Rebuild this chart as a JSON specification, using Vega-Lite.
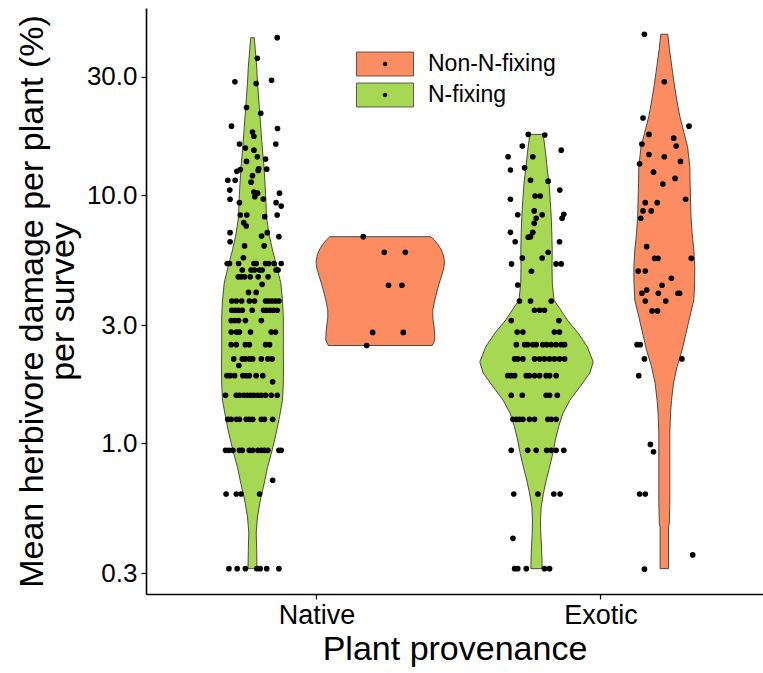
{
"$schema":"https://vega.github.io/schema/vega-lite/v6.json",
"width":617,"height":586,
"autosize":{"type":"none"},
"padding":{"left":146,"top":8,"right":0,"bottom":79},
"background":"white",
"config":{"view":{"stroke":null},"font":"Liberation Sans",
 "axis":{"grid":false,"domainColor":"black","domainWidth":1.6,"tickColor":"black","tickWidth":1.2,"tickSize":5,"labelColor":"black","titleColor":"black","labelFont":"Liberation Sans","titleFont":"Liberation Sans","titleFontWeight":"normal"},
 "legend":{"labelFont":"Liberation Sans","labelFontSize":23,"labelColor":"black","padding":0,"rowPadding":2,"labelOffset":30.5,"orient":"none","legendX":226.5,"legendY":43.5,"symbolSize":576,"symbolStrokeWidth":0.8}
},
"datasets":{
"violin":[
{"prov":"Native","type":"N-fixing","damage":43.2,"half":0.0063},{"prov":"Native","type":"N-fixing","damage":38.6,"half":0.0099},{"prov":"Native","type":"N-fixing","damage":32.9,"half":0.0148},{"prov":"Native","type":"N-fixing","damage":28.4,"half":0.0176},{"prov":"Native","type":"N-fixing","damage":24.2,"half":0.0222},{"prov":"Native","type":"N-fixing","damage":20.7,"half":0.0264},{"prov":"Native","type":"N-fixing","damage":17.8,"half":0.0306},{"prov":"Native","type":"N-fixing","damage":15.2,"half":0.0352},{"prov":"Native","type":"N-fixing","damage":13.0,"half":0.0405},{"prov":"Native","type":"N-fixing","damage":11.2,"half":0.044},{"prov":"Native","type":"N-fixing","damage":9.75,"half":0.0468},{"prov":"Native","type":"N-fixing","damage":8.18,"half":0.0493},{"prov":"Native","type":"N-fixing","damage":7.05,"half":0.0574},{"prov":"Native","type":"N-fixing","damage":6.02,"half":0.0704},{"prov":"Native","type":"N-fixing","damage":5.14,"half":0.0863},{"prov":"Native","type":"N-fixing","damage":4.43,"half":0.0996},{"prov":"Native","type":"N-fixing","damage":3.78,"half":0.1056},{"prov":"Native","type":"N-fixing","damage":3.23,"half":0.1085},{"prov":"Native","type":"N-fixing","damage":2.38,"half":0.1085},{"prov":"Native","type":"N-fixing","damage":2.03,"half":0.1092},{"prov":"Native","type":"N-fixing","damage":1.75,"half":0.1085},{"prov":"Native","type":"N-fixing","damage":1.49,"half":0.1056},{"prov":"Native","type":"N-fixing","damage":1.28,"half":0.0951},{"prov":"Native","type":"N-fixing","damage":1.10,"half":0.0835},{"prov":"Native","type":"N-fixing","damage":0.94,"half":0.0694},{"prov":"Native","type":"N-fixing","damage":0.80,"half":0.0528},{"prov":"Native","type":"N-fixing","damage":0.69,"half":0.0412},{"prov":"Native","type":"N-fixing","damage":0.59,"half":0.0275},{"prov":"Native","type":"N-fixing","damage":0.505,"half":0.0176},{"prov":"Native","type":"N-fixing","damage":0.435,"half":0.013},{"prov":"Native","type":"N-fixing","damage":0.371,"half":0.0148},{"prov":"Native","type":"N-fixing","damage":0.3125,"half":0.0158},
{"prov":"Native","type":"Non-N-fixing","damage":6.81,"half":0.1778},{"prov":"Native","type":"Non-N-fixing","damage":6.60,"half":0.1901},{"prov":"Native","type":"Non-N-fixing","damage":6.31,"half":0.2042},{"prov":"Native","type":"Non-N-fixing","damage":6.02,"half":0.2148},{"prov":"Native","type":"Non-N-fixing","damage":5.75,"half":0.2218},{"prov":"Native","type":"Non-N-fixing","damage":5.39,"half":0.2261},{"prov":"Native","type":"Non-N-fixing","damage":5.09,"half":0.2236},{"prov":"Native","type":"Non-N-fixing","damage":4.77,"half":0.2165},{"prov":"Native","type":"Non-N-fixing","damage":4.43,"half":0.2077},{"prov":"Native","type":"Non-N-fixing","damage":4.15,"half":0.2007},{"prov":"Native","type":"Non-N-fixing","damage":3.78,"half":0.1919},{"prov":"Native","type":"Non-N-fixing","damage":3.45,"half":0.1849},{"prov":"Native","type":"Non-N-fixing","damage":3.20,"half":0.1849},{"prov":"Native","type":"Non-N-fixing","damage":3.0,"half":0.1884},{"prov":"Native","type":"Non-N-fixing","damage":2.79,"half":0.1912},{"prov":"Native","type":"Non-N-fixing","damage":2.61,"half":0.1919},{"prov":"Native","type":"Non-N-fixing","damage":2.48,"half":0.1831},
{"prov":"Exotic","type":"N-fixing","damage":17.6,"half":0.0236},{"prov":"Exotic","type":"N-fixing","damage":15.2,"half":0.031},{"prov":"Exotic","type":"N-fixing","damage":13.05,"half":0.037},{"prov":"Exotic","type":"N-fixing","damage":11.18,"half":0.044},{"prov":"Exotic","type":"N-fixing","damage":9.58,"half":0.0482},{"prov":"Exotic","type":"N-fixing","damage":8.20,"half":0.0518},{"prov":"Exotic","type":"N-fixing","damage":7.03,"half":0.0539},{"prov":"Exotic","type":"N-fixing","damage":6.02,"half":0.0553},{"prov":"Exotic","type":"N-fixing","damage":5.15,"half":0.0546},{"prov":"Exotic","type":"N-fixing","damage":4.42,"half":0.0556},{"prov":"Exotic","type":"N-fixing","damage":3.78,"half":0.0616},{"prov":"Exotic","type":"N-fixing","damage":3.45,"half":0.0852},{"prov":"Exotic","type":"N-fixing","damage":3.14,"half":0.1085},{"prov":"Exotic","type":"N-fixing","damage":2.78,"half":0.1468},{"prov":"Exotic","type":"N-fixing","damage":2.45,"half":0.1789},{"prov":"Exotic","type":"N-fixing","damage":2.13,"half":0.1996},{"prov":"Exotic","type":"N-fixing","damage":1.92,"half":0.1877},{"prov":"Exotic","type":"N-fixing","damage":1.69,"half":0.1525},{"prov":"Exotic","type":"N-fixing","damage":1.49,"half":0.1173},{"prov":"Exotic","type":"N-fixing","damage":1.32,"half":0.0926},{"prov":"Exotic","type":"N-fixing","damage":1.17,"half":0.0782},{"prov":"Exotic","type":"N-fixing","damage":1.03,"half":0.0662},{"prov":"Exotic","type":"N-fixing","damage":0.91,"half":0.0574},{"prov":"Exotic","type":"N-fixing","damage":0.80,"half":0.0458},{"prov":"Exotic","type":"N-fixing","damage":0.71,"half":0.0342},{"prov":"Exotic","type":"N-fixing","damage":0.63,"half":0.0246},{"prov":"Exotic","type":"N-fixing","damage":0.555,"half":0.0165},{"prov":"Exotic","type":"N-fixing","damage":0.49,"half":0.0141},{"prov":"Exotic","type":"N-fixing","damage":0.434,"half":0.0151},{"prov":"Exotic","type":"N-fixing","damage":0.383,"half":0.0176},{"prov":"Exotic","type":"N-fixing","damage":0.338,"half":0.0194},{"prov":"Exotic","type":"N-fixing","damage":0.3125,"half":0.0194},
{"prov":"Exotic","type":"Non-N-fixing","damage":44.6,"half":0.0123},{"prov":"Exotic","type":"Non-N-fixing","damage":38.6,"half":0.0183},{"prov":"Exotic","type":"Non-N-fixing","damage":33.0,"half":0.0264},{"prov":"Exotic","type":"Non-N-fixing","damage":28.3,"half":0.0345},{"prov":"Exotic","type":"Non-N-fixing","damage":24.2,"half":0.044},{"prov":"Exotic","type":"Non-N-fixing","damage":20.8,"half":0.0546},{"prov":"Exotic","type":"Non-N-fixing","damage":17.8,"half":0.0697},{"prov":"Exotic","type":"Non-N-fixing","damage":15.7,"half":0.082},{"prov":"Exotic","type":"Non-N-fixing","damage":13.05,"half":0.0898},{"prov":"Exotic","type":"Non-N-fixing","damage":11.18,"half":0.0908},{"prov":"Exotic","type":"Non-N-fixing","damage":9.58,"half":0.0923},{"prov":"Exotic","type":"Non-N-fixing","damage":8.20,"half":0.094},{"prov":"Exotic","type":"Non-N-fixing","damage":7.03,"half":0.0979},{"prov":"Exotic","type":"Non-N-fixing","damage":6.02,"half":0.1039},{"prov":"Exotic","type":"Non-N-fixing","damage":5.15,"half":0.1074},{"prov":"Exotic","type":"Non-N-fixing","damage":4.42,"half":0.1067},{"prov":"Exotic","type":"Non-N-fixing","damage":3.78,"half":0.1039},{"prov":"Exotic","type":"Non-N-fixing","damage":3.24,"half":0.0898},{"prov":"Exotic","type":"Non-N-fixing","damage":2.78,"half":0.0764},{"prov":"Exotic","type":"Non-N-fixing","damage":2.38,"half":0.0627},{"prov":"Exotic","type":"Non-N-fixing","damage":2.04,"half":0.0451},{"prov":"Exotic","type":"Non-N-fixing","damage":1.75,"half":0.0324},{"prov":"Exotic","type":"Non-N-fixing","damage":1.49,"half":0.0254},{"prov":"Exotic","type":"Non-N-fixing","damage":1.32,"half":0.0218},{"prov":"Exotic","type":"Non-N-fixing","damage":1.10,"half":0.0194},{"prov":"Exotic","type":"Non-N-fixing","damage":0.59,"half":0.0194},{"prov":"Exotic","type":"Non-N-fixing","damage":0.476,"half":0.0176},{"prov":"Exotic","type":"Non-N-fixing","damage":0.461,"half":0.0148},{"prov":"Exotic","type":"Non-N-fixing","damage":0.3125,"half":0.0148}
],
"pts":[
{"prov":"Native","type":"N-fixing","damage":43.2,"jitter":0.087},{"prov":"Native","type":"N-fixing","damage":35.7,"jitter":0.017},{"prov":"Native","type":"N-fixing","damage":28.7,"jitter":-0.062},{"prov":"Native","type":"N-fixing","damage":28.2,"jitter":0.013},{"prov":"Native","type":"N-fixing","damage":29.1,"jitter":0.067},{"prov":"Native","type":"N-fixing","damage":22.6,"jitter":-0.021},{"prov":"Native","type":"N-fixing","damage":21.4,"jitter":0.029},{"prov":"Native","type":"N-fixing","damage":19.0,"jitter":-0.074},{"prov":"Native","type":"N-fixing","damage":18.6,"jitter":0.088},{"prov":"Native","type":"N-fixing","damage":18.0,"jitter":0},{"prov":"Native","type":"N-fixing","damage":17.3,"jitter":0.005},{"prov":"Native","type":"N-fixing","damage":16.1,"jitter":-0.046},{"prov":"Native","type":"N-fixing","damage":16.1,"jitter":0.082},{"prov":"Native","type":"N-fixing","damage":15.5,"jitter":-0.025},{"prov":"Native","type":"N-fixing","damage":15.2,"jitter":0.005},{"prov":"Native","type":"N-fixing","damage":14.3,"jitter":0.017},{"prov":"Native","type":"N-fixing","damage":14.0,"jitter":0.046},{"prov":"Native","type":"N-fixing","damage":13.7,"jitter":-0.021},{"prov":"Native","type":"N-fixing","damage":12.5,"jitter":-0.055},{"prov":"Native","type":"N-fixing","damage":12.7,"jitter":-0.043},{"prov":"Native","type":"N-fixing","damage":12.8,"jitter":0.022},{"prov":"Native","type":"N-fixing","damage":12.75,"jitter":0.05},{"prov":"Native","type":"N-fixing","damage":12.6,"jitter":0.02},{"prov":"Native","type":"N-fixing","damage":12.0,"jitter":0},{"prov":"Native","type":"N-fixing","damage":11.5,"jitter":-0.087},{"prov":"Native","type":"N-fixing","damage":11.5,"jitter":-0.061},{"prov":"Native","type":"N-fixing","damage":11.3,"jitter":-0.005},{"prov":"Native","type":"N-fixing","damage":10.5,"jitter":-0.08},{"prov":"Native","type":"N-fixing","damage":10.3,"jitter":0.005},{"prov":"Native","type":"N-fixing","damage":10.2,"jitter":0.018},{"prov":"Native","type":"N-fixing","damage":10.2,"jitter":0.095},{"prov":"Native","type":"N-fixing","damage":9.64,"jitter":-0.079},{"prov":"Native","type":"N-fixing","damage":9.87,"jitter":0.008},{"prov":"Native","type":"N-fixing","damage":9.66,"jitter":0.038},{"prov":"Native","type":"N-fixing","damage":9.34,"jitter":-0.046},{"prov":"Native","type":"N-fixing","damage":9.34,"jitter":0.083},{"prov":"Native","type":"N-fixing","damage":9.05,"jitter":0.101},{"prov":"Native","type":"N-fixing","damage":8.33,"jitter":-0.043},{"prov":"Native","type":"N-fixing","damage":8.33,"jitter":-0.02},{"prov":"Native","type":"N-fixing","damage":8.2,"jitter":0.043},{"prov":"Native","type":"N-fixing","damage":8.33,"jitter":0.087},{"prov":"Native","type":"N-fixing","damage":7.76,"jitter":-0.031},{"prov":"Native","type":"N-fixing","damage":7.52,"jitter":-0.022},{"prov":"Native","type":"N-fixing","damage":7.07,"jitter":-0.079},{"prov":"Native","type":"N-fixing","damage":7.07,"jitter":0.052},{"prov":"Native","type":"N-fixing","damage":6.5,"jitter":-0.079},{"prov":"Native","type":"N-fixing","damage":6.85,"jitter":0.032},{"prov":"Native","type":"N-fixing","damage":6.81,"jitter":0.093},{"prov":"Native","type":"N-fixing","damage":6.25,"jitter":-0.028},{"prov":"Native","type":"N-fixing","damage":6.25,"jitter":0.041},{"prov":"Native","type":"N-fixing","damage":5.6,"jitter":-0.032},
{"prov":"Native","type":"N-fixing","damage":5.31,"jitter":-0.089},{"prov":"Native","type":"N-fixing","damage":5.31,"jitter":-0.081},{"prov":"Native","type":"N-fixing","damage":5.31,"jitter":-0.049},{"prov":"Native","type":"N-fixing","damage":5.31,"jitter":0.005},{"prov":"Native","type":"N-fixing","damage":5.31,"jitter":0.013},{"prov":"Native","type":"N-fixing","damage":5.31,"jitter":0.046},{"prov":"Native","type":"N-fixing","damage":5.31,"jitter":0.057},{"prov":"Native","type":"N-fixing","damage":5.31,"jitter":0.076},{"prov":"Native","type":"N-fixing","damage":5.31,"jitter":0.101},
{"prov":"Native","type":"N-fixing","damage":5.0,"jitter":-0.036},{"prov":"Native","type":"N-fixing","damage":5.0,"jitter":-0.005},{"prov":"Native","type":"N-fixing","damage":5.0,"jitter":0.007},{"prov":"Native","type":"N-fixing","damage":5.0,"jitter":0.025},{"prov":"Native","type":"N-fixing","damage":5.0,"jitter":0.034},{"prov":"Native","type":"N-fixing","damage":5.0,"jitter":0.083},{"prov":"Native","type":"N-fixing","damage":5.0,"jitter":0.09},
{"prov":"Native","type":"N-fixing","damage":4.69,"jitter":-0.05},{"prov":"Native","type":"N-fixing","damage":4.69,"jitter":-0.04},{"prov":"Native","type":"N-fixing","damage":4.69,"jitter":-0.028},{"prov":"Native","type":"N-fixing","damage":4.69,"jitter":-0.008},{"prov":"Native","type":"N-fixing","damage":4.69,"jitter":0.02},{"prov":"Native","type":"N-fixing","damage":4.69,"jitter":0.055},
{"prov":"Native","type":"N-fixing","damage":4.375,"jitter":0.034},{"prov":"Native","type":"N-fixing","damage":4.06,"jitter":-0.014},{"prov":"Native","type":"N-fixing","damage":4.06,"jitter":0.013},
{"prov":"Native","type":"N-fixing","damage":3.75,"jitter":-0.073},{"prov":"Native","type":"N-fixing","damage":3.75,"jitter":-0.057},{"prov":"Native","type":"N-fixing","damage":3.75,"jitter":-0.038},{"prov":"Native","type":"N-fixing","damage":3.75,"jitter":-0.011},{"prov":"Native","type":"N-fixing","damage":3.75,"jitter":0.007},{"prov":"Native","type":"N-fixing","damage":3.75,"jitter":0.046},{"prov":"Native","type":"N-fixing","damage":3.75,"jitter":0.057},{"prov":"Native","type":"N-fixing","damage":3.75,"jitter":0.069},{"prov":"Native","type":"N-fixing","damage":3.75,"jitter":0.081},{"prov":"Native","type":"N-fixing","damage":3.75,"jitter":0.093},
{"prov":"Native","type":"N-fixing","damage":3.44,"jitter":-0.073},{"prov":"Native","type":"N-fixing","damage":3.44,"jitter":-0.061},{"prov":"Native","type":"N-fixing","damage":3.44,"jitter":-0.049},{"prov":"Native","type":"N-fixing","damage":3.44,"jitter":-0.036},{"prov":"Native","type":"N-fixing","damage":3.44,"jitter":-0.001},{"prov":"Native","type":"N-fixing","damage":3.44,"jitter":0.039},{"prov":"Native","type":"N-fixing","damage":3.44,"jitter":0.05},{"prov":"Native","type":"N-fixing","damage":3.44,"jitter":0.062},{"prov":"Native","type":"N-fixing","damage":3.44,"jitter":0.074},{"prov":"Native","type":"N-fixing","damage":3.44,"jitter":0.087},
{"prov":"Native","type":"N-fixing","damage":3.125,"jitter":-0.075},{"prov":"Native","type":"N-fixing","damage":3.125,"jitter":-0.063},{"prov":"Native","type":"N-fixing","damage":3.125,"jitter":-0.049},{"prov":"Native","type":"N-fixing","damage":3.125,"jitter":-0.025},{"prov":"Native","type":"N-fixing","damage":3.125,"jitter":0.031},
{"prov":"Native","type":"N-fixing","damage":2.81,"jitter":-0.075},{"prov":"Native","type":"N-fixing","damage":2.81,"jitter":-0.057},{"prov":"Native","type":"N-fixing","damage":2.81,"jitter":-0.046},{"prov":"Native","type":"N-fixing","damage":2.81,"jitter":-0.007},{"prov":"Native","type":"N-fixing","damage":2.81,"jitter":0.066},{"prov":"Native","type":"N-fixing","damage":2.81,"jitter":0.081},
{"prov":"Native","type":"N-fixing","damage":2.5,"jitter":-0.075},{"prov":"Native","type":"N-fixing","damage":2.5,"jitter":-0.057},{"prov":"Native","type":"N-fixing","damage":2.5,"jitter":-0.025},{"prov":"Native","type":"N-fixing","damage":2.5,"jitter":-0.011},{"prov":"Native","type":"N-fixing","damage":2.5,"jitter":0.046},{"prov":"Native","type":"N-fixing","damage":2.5,"jitter":0.06},
{"prov":"Native","type":"N-fixing","damage":2.19,"jitter":-0.066},{"prov":"Native","type":"N-fixing","damage":2.19,"jitter":-0.036},{"prov":"Native","type":"N-fixing","damage":2.19,"jitter":-0.025},{"prov":"Native","type":"N-fixing","damage":2.19,"jitter":-0.011},{"prov":"Native","type":"N-fixing","damage":2.19,"jitter":0.001},{"prov":"Native","type":"N-fixing","damage":2.19,"jitter":0.031},{"prov":"Native","type":"N-fixing","damage":2.19,"jitter":0.054},{"prov":"Native","type":"N-fixing","damage":2.19,"jitter":0.069},
{"prov":"Native","type":"N-fixing","damage":2.06,"jitter":-0.048},
{"prov":"Native","type":"N-fixing","damage":1.875,"jitter":-0.09},{"prov":"Native","type":"N-fixing","damage":1.875,"jitter":-0.079},{"prov":"Native","type":"N-fixing","damage":1.875,"jitter":-0.063},{"prov":"Native","type":"N-fixing","damage":1.875,"jitter":-0.034},{"prov":"Native","type":"N-fixing","damage":1.875,"jitter":-0.022},{"prov":"Native","type":"N-fixing","damage":1.875,"jitter":-0.011},{"prov":"Native","type":"N-fixing","damage":1.875,"jitter":0.013},{"prov":"Native","type":"N-fixing","damage":1.875,"jitter":0.036},
{"prov":"Native","type":"N-fixing","damage":1.77,"jitter":0.071},
{"prov":"Native","type":"N-fixing","damage":1.5625,"jitter":-0.095},{"prov":"Native","type":"N-fixing","damage":1.5625,"jitter":-0.057},{"prov":"Native","type":"N-fixing","damage":1.5625,"jitter":-0.046},{"prov":"Native","type":"N-fixing","damage":1.5625,"jitter":-0.031},{"prov":"Native","type":"N-fixing","damage":1.5625,"jitter":-0.019},{"prov":"Native","type":"N-fixing","damage":1.5625,"jitter":-0.007},{"prov":"Native","type":"N-fixing","damage":1.5625,"jitter":0.005},{"prov":"Native","type":"N-fixing","damage":1.5625,"jitter":0.019},{"prov":"Native","type":"N-fixing","damage":1.5625,"jitter":0.031},{"prov":"Native","type":"N-fixing","damage":1.5625,"jitter":0.046},{"prov":"Native","type":"N-fixing","damage":1.5625,"jitter":0.066},{"prov":"Native","type":"N-fixing","damage":1.5625,"jitter":0.087},
{"prov":"Native","type":"N-fixing","damage":1.25,"jitter":-0.087},{"prov":"Native","type":"N-fixing","damage":1.25,"jitter":-0.075},{"prov":"Native","type":"N-fixing","damage":1.25,"jitter":-0.057},{"prov":"Native","type":"N-fixing","damage":1.25,"jitter":-0.046},{"prov":"Native","type":"N-fixing","damage":1.25,"jitter":-0.022},{"prov":"Native","type":"N-fixing","damage":1.25,"jitter":-0.011},{"prov":"Native","type":"N-fixing","damage":1.25,"jitter":0.001},{"prov":"Native","type":"N-fixing","damage":1.25,"jitter":0.031},{"prov":"Native","type":"N-fixing","damage":1.25,"jitter":0.042},{"prov":"Native","type":"N-fixing","damage":1.25,"jitter":0.071},
{"prov":"Native","type":"N-fixing","damage":0.9375,"jitter":-0.095},{"prov":"Native","type":"N-fixing","damage":0.9375,"jitter":-0.083},{"prov":"Native","type":"N-fixing","damage":0.9375,"jitter":-0.069},{"prov":"Native","type":"N-fixing","damage":0.9375,"jitter":-0.046},{"prov":"Native","type":"N-fixing","damage":0.9375,"jitter":-0.036},{"prov":"Native","type":"N-fixing","damage":0.9375,"jitter":-0.011},{"prov":"Native","type":"N-fixing","damage":0.9375,"jitter":0.001},{"prov":"Native","type":"N-fixing","damage":0.9375,"jitter":0.019},{"prov":"Native","type":"N-fixing","damage":0.9375,"jitter":0.031},{"prov":"Native","type":"N-fixing","damage":0.9375,"jitter":0.042},{"prov":"Native","type":"N-fixing","damage":0.9375,"jitter":0.054},{"prov":"Native","type":"N-fixing","damage":0.9375,"jitter":0.093},{"prov":"Native","type":"N-fixing","damage":0.9375,"jitter":0.101},
{"prov":"Native","type":"N-fixing","damage":0.71,"jitter":0.071},
{"prov":"Native","type":"N-fixing","damage":0.625,"jitter":-0.093},{"prov":"Native","type":"N-fixing","damage":0.625,"jitter":-0.057},{"prov":"Native","type":"N-fixing","damage":0.625,"jitter":-0.04},{"prov":"Native","type":"N-fixing","damage":0.625,"jitter":0.025},
{"prov":"Native","type":"N-fixing","damage":0.3125,"jitter":-0.083},{"prov":"Native","type":"N-fixing","damage":0.3125,"jitter":-0.054},{"prov":"Native","type":"N-fixing","damage":0.3125,"jitter":-0.025},{"prov":"Native","type":"N-fixing","damage":0.3125,"jitter":0.015},{"prov":"Native","type":"N-fixing","damage":0.3125,"jitter":0.027},{"prov":"Native","type":"N-fixing","damage":0.3125,"jitter":0.05},{"prov":"Native","type":"N-fixing","damage":0.3125,"jitter":0.093},
{"prov":"Native","type":"Non-N-fixing","damage":6.81,"jitter":-0.06},{"prov":"Native","type":"Non-N-fixing","damage":5.89,"jitter":0.014},{"prov":"Native","type":"Non-N-fixing","damage":5.89,"jitter":0.088},{"prov":"Native","type":"Non-N-fixing","damage":4.34,"jitter":0.029},{"prov":"Native","type":"Non-N-fixing","damage":4.34,"jitter":0.076},{"prov":"Native","type":"Non-N-fixing","damage":2.80,"jitter":-0.027},{"prov":"Native","type":"Non-N-fixing","damage":2.80,"jitter":0.081},{"prov":"Native","type":"Non-N-fixing","damage":2.48,"jitter":-0.048},
{"prov":"Exotic","type":"N-fixing","damage":17.6,"jitter":-0.029},{"prov":"Exotic","type":"N-fixing","damage":17.5,"jitter":0.029},{"prov":"Exotic","type":"N-fixing","damage":15.8,"jitter":-0.05},{"prov":"Exotic","type":"N-fixing","damage":15.2,"jitter":0.087},{"prov":"Exotic","type":"N-fixing","damage":14.3,"jitter":-0.1},{"prov":"Exotic","type":"N-fixing","damage":14.3,"jitter":-0.013},{"prov":"Exotic","type":"N-fixing","damage":12.65,"jitter":-0.092},{"prov":"Exotic","type":"N-fixing","damage":12.9,"jitter":-0.042},{"prov":"Exotic","type":"N-fixing","damage":11.5,"jitter":-0.021},{"prov":"Exotic","type":"N-fixing","damage":11.4,"jitter":0.041},{"prov":"Exotic","type":"N-fixing","damage":10.5,"jitter":0.082},{"prov":"Exotic","type":"N-fixing","damage":9.64,"jitter":-0.092},{"prov":"Exotic","type":"N-fixing","damage":9.94,"jitter":-0.005},{"prov":"Exotic","type":"N-fixing","damage":9.94,"jitter":0.013},{"prov":"Exotic","type":"N-fixing","damage":8.65,"jitter":-0.008},{"prov":"Exotic","type":"N-fixing","damage":8.35,"jitter":-0.066},{"prov":"Exotic","type":"N-fixing","damage":8.35,"jitter":0.02},{"prov":"Exotic","type":"N-fixing","damage":8.38,"jitter":0.096},{"prov":"Exotic","type":"N-fixing","damage":8.08,"jitter":0.09},{"prov":"Exotic","type":"N-fixing","damage":8.08,"jitter":-0.001},{"prov":"Exotic","type":"N-fixing","damage":7.71,"jitter":-0.008},{"prov":"Exotic","type":"N-fixing","damage":7.09,"jitter":-0.092},{"prov":"Exotic","type":"N-fixing","damage":7.09,"jitter":-0.013},{"prov":"Exotic","type":"N-fixing","damage":6.81,"jitter":-0.021},{"prov":"Exotic","type":"N-fixing","damage":6.78,"jitter":-0.029},{"prov":"Exotic","type":"N-fixing","damage":6.5,"jitter":-0.075},{"prov":"Exotic","type":"N-fixing","damage":6.5,"jitter":0.081},{"prov":"Exotic","type":"N-fixing","damage":5.89,"jitter":0.041},{"prov":"Exotic","type":"N-fixing","damage":5.59,"jitter":-0.05},{"prov":"Exotic","type":"N-fixing","damage":5.59,"jitter":0.02},{"prov":"Exotic","type":"N-fixing","damage":5.29,"jitter":-0.088},{"prov":"Exotic","type":"N-fixing","damage":5.29,"jitter":0.069},{"prov":"Exotic","type":"N-fixing","damage":5.29,"jitter":0.087},{"prov":"Exotic","type":"N-fixing","damage":4.94,"jitter":-0.018},{"prov":"Exotic","type":"N-fixing","damage":4.35,"jitter":-0.066},
{"prov":"Exotic","type":"N-fixing","damage":3.75,"jitter":-0.06},{"prov":"Exotic","type":"N-fixing","damage":3.75,"jitter":-0.021},{"prov":"Exotic","type":"N-fixing","damage":3.75,"jitter":0.052},
{"prov":"Exotic","type":"N-fixing","damage":3.44,"jitter":-0.007},{"prov":"Exotic","type":"N-fixing","damage":3.44,"jitter":0.011},{"prov":"Exotic","type":"N-fixing","damage":3.44,"jitter":0.028},
{"prov":"Exotic","type":"N-fixing","damage":3.125,"jitter":-0.089},{"prov":"Exotic","type":"N-fixing","damage":3.125,"jitter":0.079},
{"prov":"Exotic","type":"N-fixing","damage":2.81,"jitter":-0.068},{"prov":"Exotic","type":"N-fixing","damage":2.81,"jitter":-0.048},{"prov":"Exotic","type":"N-fixing","damage":2.81,"jitter":0.063},{"prov":"Exotic","type":"N-fixing","damage":2.81,"jitter":0.081},
{"prov":"Exotic","type":"N-fixing","damage":2.5,"jitter":-0.071},{"prov":"Exotic","type":"N-fixing","damage":2.5,"jitter":-0.042},{"prov":"Exotic","type":"N-fixing","damage":2.5,"jitter":-0.031},{"prov":"Exotic","type":"N-fixing","damage":2.5,"jitter":-0.013},{"prov":"Exotic","type":"N-fixing","damage":2.5,"jitter":-0.001},{"prov":"Exotic","type":"N-fixing","damage":2.5,"jitter":0.022},{"prov":"Exotic","type":"N-fixing","damage":2.5,"jitter":0.036},{"prov":"Exotic","type":"N-fixing","damage":2.5,"jitter":0.052},{"prov":"Exotic","type":"N-fixing","damage":2.5,"jitter":0.069},{"prov":"Exotic","type":"N-fixing","damage":2.5,"jitter":0.087},{"prov":"Exotic","type":"N-fixing","damage":2.5,"jitter":0.099},
{"prov":"Exotic","type":"N-fixing","damage":2.19,"jitter":-0.077},{"prov":"Exotic","type":"N-fixing","damage":2.19,"jitter":-0.066},{"prov":"Exotic","type":"N-fixing","damage":2.19,"jitter":-0.048},{"prov":"Exotic","type":"N-fixing","damage":2.19,"jitter":-0.007},{"prov":"Exotic","type":"N-fixing","damage":2.19,"jitter":0.011},{"prov":"Exotic","type":"N-fixing","damage":2.19,"jitter":0.028},{"prov":"Exotic","type":"N-fixing","damage":2.19,"jitter":0.046},{"prov":"Exotic","type":"N-fixing","damage":2.19,"jitter":0.063},{"prov":"Exotic","type":"N-fixing","damage":2.19,"jitter":0.081},{"prov":"Exotic","type":"N-fixing","damage":2.19,"jitter":0.099},
{"prov":"Exotic","type":"N-fixing","damage":1.875,"jitter":-0.101},{"prov":"Exotic","type":"N-fixing","damage":1.875,"jitter":-0.089},{"prov":"Exotic","type":"N-fixing","damage":1.875,"jitter":-0.077},{"prov":"Exotic","type":"N-fixing","damage":1.875,"jitter":-0.036},{"prov":"Exotic","type":"N-fixing","damage":1.875,"jitter":-0.025},{"prov":"Exotic","type":"N-fixing","damage":1.875,"jitter":-0.007},{"prov":"Exotic","type":"N-fixing","damage":1.875,"jitter":0.011},{"prov":"Exotic","type":"N-fixing","damage":1.875,"jitter":0.034},{"prov":"Exotic","type":"N-fixing","damage":1.875,"jitter":0.046},{"prov":"Exotic","type":"N-fixing","damage":1.875,"jitter":0.069},
{"prov":"Exotic","type":"N-fixing","damage":1.5625,"jitter":-0.089},{"prov":"Exotic","type":"N-fixing","damage":1.5625,"jitter":-0.05},{"prov":"Exotic","type":"N-fixing","damage":1.5625,"jitter":0.034},{"prov":"Exotic","type":"N-fixing","damage":1.5625,"jitter":0.046},{"prov":"Exotic","type":"N-fixing","damage":1.5625,"jitter":0.073},
{"prov":"Exotic","type":"N-fixing","damage":1.25,"jitter":-0.083},{"prov":"Exotic","type":"N-fixing","damage":1.25,"jitter":-0.071},{"prov":"Exotic","type":"N-fixing","damage":1.25,"jitter":-0.06},{"prov":"Exotic","type":"N-fixing","damage":1.25,"jitter":-0.048},{"prov":"Exotic","type":"N-fixing","damage":1.25,"jitter":-0.025},{"prov":"Exotic","type":"N-fixing","damage":1.25,"jitter":-0.007},{"prov":"Exotic","type":"N-fixing","damage":1.25,"jitter":0.04},{"prov":"Exotic","type":"N-fixing","damage":1.25,"jitter":0.052},{"prov":"Exotic","type":"N-fixing","damage":1.25,"jitter":0.069},
{"prov":"Exotic","type":"N-fixing","damage":0.9375,"jitter":-0.089},{"prov":"Exotic","type":"N-fixing","damage":0.9375,"jitter":-0.031},{"prov":"Exotic","type":"N-fixing","damage":0.9375,"jitter":-0.001},{"prov":"Exotic","type":"N-fixing","damage":0.9375,"jitter":0.036},{"prov":"Exotic","type":"N-fixing","damage":0.9375,"jitter":0.052},{"prov":"Exotic","type":"N-fixing","damage":0.9375,"jitter":0.069},{"prov":"Exotic","type":"N-fixing","damage":0.9375,"jitter":0.096},
{"prov":"Exotic","type":"N-fixing","damage":0.625,"jitter":-0.08},{"prov":"Exotic","type":"N-fixing","damage":0.625,"jitter":0.005},{"prov":"Exotic","type":"N-fixing","damage":0.625,"jitter":0.061},{"prov":"Exotic","type":"N-fixing","damage":0.625,"jitter":0.083},
{"prov":"Exotic","type":"N-fixing","damage":0.414,"jitter":-0.083},
{"prov":"Exotic","type":"N-fixing","damage":0.3125,"jitter":-0.077},{"prov":"Exotic","type":"N-fixing","damage":0.3125,"jitter":-0.066},{"prov":"Exotic","type":"N-fixing","damage":0.3125,"jitter":-0.036},{"prov":"Exotic","type":"N-fixing","damage":0.3125,"jitter":0.028},{"prov":"Exotic","type":"N-fixing","damage":0.3125,"jitter":0.046},
{"prov":"Exotic","type":"Non-N-fixing","damage":44.6,"jitter":-0.07},{"prov":"Exotic","type":"Non-N-fixing","damage":28.7,"jitter":0},{"prov":"Exotic","type":"Non-N-fixing","damage":20.5,"jitter":-0.075},{"prov":"Exotic","type":"Non-N-fixing","damage":19.0,"jitter":0.087},{"prov":"Exotic","type":"Non-N-fixing","damage":17.6,"jitter":-0.054},{"prov":"Exotic","type":"Non-N-fixing","damage":17.0,"jitter":0.033},{"prov":"Exotic","type":"Non-N-fixing","damage":16.1,"jitter":-0.079},{"prov":"Exotic","type":"Non-N-fixing","damage":15.8,"jitter":0.042},{"prov":"Exotic","type":"Non-N-fixing","damage":14.6,"jitter":-0.054},{"prov":"Exotic","type":"Non-N-fixing","damage":14.3,"jitter":0},{"prov":"Exotic","type":"Non-N-fixing","damage":13.4,"jitter":-0.087},{"prov":"Exotic","type":"Non-N-fixing","damage":13.7,"jitter":0.057},{"prov":"Exotic","type":"Non-N-fixing","damage":12.4,"jitter":-0.038},{"prov":"Exotic","type":"Non-N-fixing","damage":11.7,"jitter":0.038},{"prov":"Exotic","type":"Non-N-fixing","damage":11.1,"jitter":-0.005},{"prov":"Exotic","type":"Non-N-fixing","damage":9.34,"jitter":-0.067},{"prov":"Exotic","type":"Non-N-fixing","damage":9.34,"jitter":-0.025},{"prov":"Exotic","type":"Non-N-fixing","damage":9.64,"jitter":0.075},{"prov":"Exotic","type":"Non-N-fixing","damage":8.65,"jitter":-0.075},{"prov":"Exotic","type":"Non-N-fixing","damage":8.65,"jitter":-0.046},{"prov":"Exotic","type":"Non-N-fixing","damage":8.08,"jitter":-0.083},{"prov":"Exotic","type":"Non-N-fixing","damage":6.21,"jitter":-0.062},{"prov":"Exotic","type":"Non-N-fixing","damage":5.57,"jitter":-0.034},{"prov":"Exotic","type":"Non-N-fixing","damage":5.57,"jitter":-0.022},{"prov":"Exotic","type":"Non-N-fixing","damage":5.57,"jitter":0.095},{"prov":"Exotic","type":"Non-N-fixing","damage":4.95,"jitter":-0.092},{"prov":"Exotic","type":"Non-N-fixing","damage":4.95,"jitter":-0.067},{"prov":"Exotic","type":"Non-N-fixing","damage":4.63,"jitter":0.025},{"prov":"Exotic","type":"Non-N-fixing","damage":4.34,"jitter":-0.008},{"prov":"Exotic","type":"Non-N-fixing","damage":4.15,"jitter":-0.062},{"prov":"Exotic","type":"Non-N-fixing","damage":4.03,"jitter":-0.079},{"prov":"Exotic","type":"Non-N-fixing","damage":4.03,"jitter":-0.021},{"prov":"Exotic","type":"Non-N-fixing","damage":4.03,"jitter":0.048},{"prov":"Exotic","type":"Non-N-fixing","damage":4.03,"jitter":0.054},{"prov":"Exotic","type":"Non-N-fixing","damage":3.75,"jitter":-0.067},{"prov":"Exotic","type":"Non-N-fixing","damage":3.75,"jitter":0.005},{"prov":"Exotic","type":"Non-N-fixing","damage":3.42,"jitter":-0.043},{"prov":"Exotic","type":"Non-N-fixing","damage":3.42,"jitter":-0.024},{"prov":"Exotic","type":"Non-N-fixing","damage":2.5,"jitter":-0.096},{"prov":"Exotic","type":"Non-N-fixing","damage":2.5,"jitter":-0.085},{"prov":"Exotic","type":"Non-N-fixing","damage":2.19,"jitter":-0.07},{"prov":"Exotic","type":"Non-N-fixing","damage":2.19,"jitter":0.062},{"prov":"Exotic","type":"Non-N-fixing","damage":1.875,"jitter":-0.09},{"prov":"Exotic","type":"Non-N-fixing","damage":0.99,"jitter":-0.049},{"prov":"Exotic","type":"Non-N-fixing","damage":0.925,"jitter":-0.038},{"prov":"Exotic","type":"Non-N-fixing","damage":0.625,"jitter":-0.087},{"prov":"Exotic","type":"Non-N-fixing","damage":0.625,"jitter":-0.067},{"prov":"Exotic","type":"Non-N-fixing","damage":0.355,"jitter":0.1},{"prov":"Exotic","type":"Non-N-fixing","damage":0.311,"jitter":-0.07}
]
},
"encoding":{
 "y":{"field":"damage","type":"quantitative","scale":{"type":"log","domain":[0.247,56.9],"nice":false},
  "axis":{"values":[0.3,1,3,10,30],"format":".1f","labelFontSize":26,"labelPadding":4,"title":["Mean herbivore damage per plant (%)","per survey"],"titleFontSize":34,"titleLineHeight":30.6,"titlePadding":6}}
},
"layer":[
 {"data":{"name":"violin"},
  "transform":[
   {"calculate":"(datum.prov == 'Native' ? 1 : 2) + (datum.type == 'N-fixing' ? -0.225 : 0.225)","as":"center"},
   {"calculate":"datum.center - datum.half","as":"left"},
   {"calculate":"datum.center + datum.half","as":"right"}
  ],
  "mark":{"type":"area","orient":"horizontal","stroke":"#3a3a3a","strokeWidth":0.9,"opacity":1,"fillOpacity":1},
  "encoding":{
   "x":{"field":"left","type":"quantitative","scale":{"domain":[0.4,2.5725],"nice":false,"zero":false},
    "axis":{"values":[1,2],"labelExpr":"datum.value == 1 ? 'Native' : 'Exotic'","labelFontSize":27,"labelPadding":3,"title":"Plant provenance","titleFontSize":34,"titlePadding":4}},
   "x2":{"field":"right"},
   "fill":{"field":"type","type":"nominal","sort":"descending","scale":{"range":["#FC8D62","#A6D854"]},
    "legend":{"title":null,"symbolType":"M-2.375,-1H2.375V1H-2.375Z","symbolStrokeColor":"#3a3a3a","symbolOpacity":1}},
   "detail":{"field":"prov"}
  }},
 {"data":{"name":"pts"},
  "transform":[
   {"calculate":"(datum.prov == 'Native' ? 1 : 2) + (datum.type == 'N-fixing' ? -0.225 : 0.225) + datum.jitter","as":"position"}
  ],
  "mark":{"type":"circle","size":32,"color":"black","opacity":1},
  "encoding":{
   "x":{"field":"position","type":"quantitative",
    "axis":{"values":[1,2],"labelExpr":"datum.value == 1 ? 'Native' : 'Exotic'","labelFontSize":27,"labelPadding":3,"title":"Plant provenance","titleFontSize":34,"titlePadding":4}},
   "opacity":{"field":"type","type":"ordinal","sort":"descending","scale":{"range":[1,1]},
    "legend":{"title":null,"symbolType":"M-2.375,-1L2.375,1M0.19,0A0.19,0.19,0,1,1,-0.19,0A0.19,0.19,0,1,1,0.19,0Z","symbolFillColor":"black","symbolStrokeColor":"transparent","symbolOpacity":1,"labelOpacity":0}}
  }}
]
}
